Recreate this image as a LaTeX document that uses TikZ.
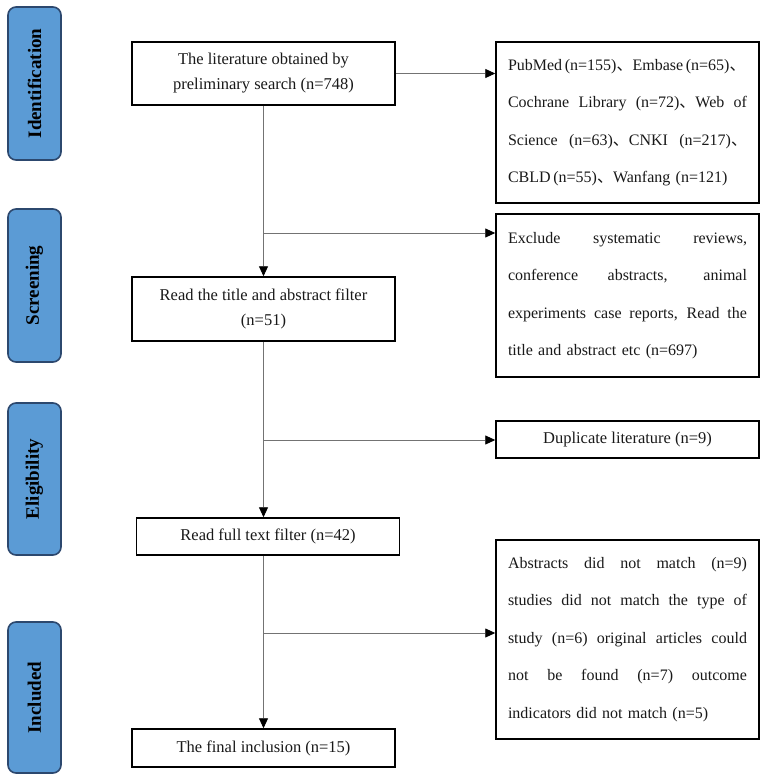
\documentclass[tikz,border=0pt]{standalone}
\usepackage{fontspec}
\setmainfont{Liberation Serif}
\newfontfamily\cjk{Noto Sans CJK SC}
\usetikzlibrary{arrows.meta}
\newcommand\dun{{\cjk 、}}
\newcommand\jline[1]{{\spaceskip=0.25em plus 10em\xspaceskip=0.25em plus 10em\makebox[239pt][s]{#1}}}
\definecolor{stageblue}{RGB}{91,155,213}
\definecolor{stageedge}{RGB}{44,72,110}
\definecolor{linkgray}{RGB}{115,115,115}
\definecolor{txt}{RGB}{25,25,25}
\begin{document}
\begin{tikzpicture}[x=1pt,y=1pt,
 stage/.style={draw=stageedge, line width=1.6pt, fill=stageblue, rounded corners=8pt, rotate=90, minimum height=53pt, inner sep=0pt, font=\fontsize{19}{22}\selectfont\bfseries, text=black},
 mainbox/.style={draw=black, line width=1.5pt, fill=white, minimum width=263pt, inner sep=0pt, align=center, font=\fontsize{16.5}{25}\selectfont, text=txt},
 sidebox/.style={draw=black, line width=1.5pt, fill=white, minimum width=263pt, inner sep=0pt, text width=239pt, align=left, font=\fontsize{16}{37.5}\selectfont, text=txt},
 link/.style={draw=linkgray, line width=0.9pt},
 arrow/.style={link, -{Triangle[length=10pt,width=9pt,color=black]}}
]
\useasboundingbox (0,0) rectangle (767,-779);

% stage labels
\node[stage, minimum width=153pt] (s1) at (34.5,-83.5) {Identification};
\node[stage, minimum width=153pt] (s2) at (34.5,-285.5) {Screening};
\node[stage, minimum width=152pt] (s3) at (34.5,-479) {Eligibility};
\node[stage, minimum width=151pt] (s4) at (34.5,-697.5) {Included};

% main column
\node[mainbox, minimum height=63pt] (b1) at (263.5,-73.5) {The literature obtained by\\preliminary search (n=748)};
\node[mainbox, minimum height=64pt] (b2) at (263.5,-309) {Read the title and abstract filter\\(n=51)};
\node[mainbox, minimum height=37pt] (b3) at (268,-536.5) {Read full text filter (n=42)};
\node[mainbox, minimum height=38pt] (b4) at (263.5,-748) {The final inclusion (n=15)};

% side column
\node[sidebox, minimum height=161pt] (r1) at (627.5,-122.5) {\jline{PubMed\,(n=155)\dun Embase\,(n=65)\dun}\\ \jline{Cochrane Library (n=72)\dun Web of}\\ \jline{Science (n=63)\dun CNKI (n=217)\dun}\\ CBLD\,(n=55)\dun Wanfang (n=121)};
\node[sidebox, minimum height=163pt] (r2) at (627.5,-295.5) {\jline{Exclude systematic reviews,}\\ \jline{conference abstracts, animal}\\ \jline{experiments case reports, Read the}\\ title and abstract etc (n=697)};
\node[mainbox, minimum height=37pt] (r3) at (627.5,-439.5) {Duplicate literature (n=9)};
\node[sidebox, minimum height=199pt] (r4) at (627.5,-639.5) {\jline{Abstracts did not match (n=9)}\\ \jline{studies did not match the type of}\\ \jline{study (n=6) original articles could}\\ \jline{not be found (n=7) outcome}\\ indicators did not match (n=5)};

% junctions on the trunk
\coordinate (j1) at (263.5,-233);
\coordinate (j2) at (263.5,-440);
\coordinate (j3) at (263.5,-633);

% connectors
\draw[arrow] (b1.east) -- (r1.west |- b1.east);
\draw[arrow] (b1.south) -- (b1.south |- b2.north);
\draw[arrow] (j1) -- (j1 -| r2.west);
\draw[arrow] (b2.south) -- (b2.south |- b3.north);
\draw[arrow] (j2) -- (j2 -| r3.west);
\draw[arrow] (b2.south |- b3.south) -- (b2.south |- b4.north);
\draw[arrow] (j3) -- (j3 -| r4.west);
\end{tikzpicture}
\end{document}
